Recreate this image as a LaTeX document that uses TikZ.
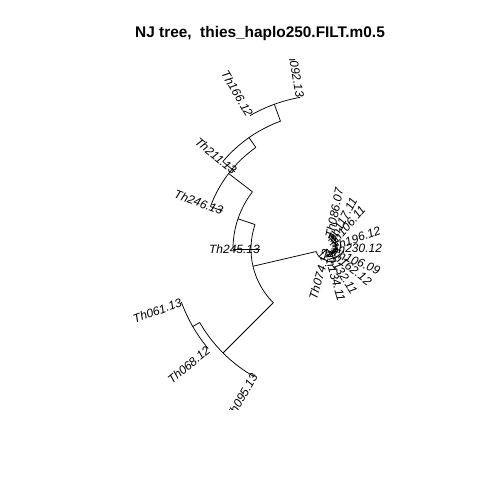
\documentclass[tikz,border=0pt]{standalone}
\usepackage{fontspec}
\setmainfont{Liberation Sans}
\begin{document}
\begin{tikzpicture}[x=1pt,y=1pt,
  br/.style={line width=0.75pt, black},
  lab/.style={font=\itshape\fontsize{12}{14}\selectfont, inner sep=0pt},
  labL/.style={lab, anchor=east, rotate=#1},
  labR/.style={lab, anchor=west, rotate=#1}]
\useasboundingbox (0,0) rectangle (480,-480);
\fill[white] (0,0) rectangle (480,-480);
\node[font=\bfseries\fontsize{15.4}{18}\selectfont, anchor=base] (title) at (260,-37) {NJ tree,\ \ thies\_haplo250.FILT.m0.5};
\begin{scope}
\clip (59,-59) rectangle (450,-409);
\begin{scope}[shift={(327,-249)}]
% ---- outer clade ----
\coordinate (R) at (0,0);
\coordinate (P) at (223.5:11);
\coordinate (Pa) at (193.1:11);
\coordinate (Pb) at (254:11);
\coordinate (A) at (193.1:76);
\coordinate (Aa) at (161.25:76);
\coordinate (Ab) at (225:76);
\coordinate (E) at (161.25:94);
\coordinate (Ea) at (142.5:94);
\coordinate (Eb) at (180:94);
\coordinate (F) at (142.5:124);
\coordinate (Fa) at (125:124);
\coordinate (Fb) at (160:124);
\coordinate (G) at (125:136);
\coordinate (Ga) at (110:136);
\coordinate (Gb) at (140:136);
\coordinate (H) at (110:154);
\coordinate (Ha) at (100:154);
\coordinate (Hb) at (120:154);
\coordinate (B) at (225:147);
\coordinate (Ba) at (210:147);
\coordinate (Bb) at (240:147);
\coordinate (D) at (210:155);
\coordinate (Da) at (200:155);
\coordinate (Db) at (220:155);
\coordinate (t245) at (180:67);
\coordinate (t246) at (160:111);
\coordinate (t211) at (140:120);
\coordinate (t095) at (240:145);
\coordinate (t074) at (254:1);
\draw[br] (R) -- (P);
\draw[br] (Pa) arc[start angle=193.1,end angle=254,radius=11pt];
\draw[br] (Pa) -- (A);
\draw[br] (Aa) arc[start angle=161.25,end angle=225,radius=76pt];
\draw[br] (Aa) -- (E);
\draw[br] (Ea) arc[start angle=142.5,end angle=180,radius=94pt];
\draw[br] (Eb) -- (t245);
\draw[br] (Ea) -- (F);
\draw[br] (Fa) arc[start angle=125,end angle=160,radius=124pt];
\draw[br] (Fb) -- (t246);
\draw[br] (Fa) -- (G);
\draw[br] (Ga) arc[start angle=110,end angle=140,radius=136pt];
\draw[br] (Gb) -- (t211);
\draw[br] (Ga) -- (H);
\draw[br] (Ha) arc[start angle=100,end angle=120,radius=154pt];
\draw[br] (Ab) -- (B);
\draw[br] (Ba) arc[start angle=210,end angle=240,radius=147pt];
\draw[br] (Bb) -- (t095);
\draw[br] (Ba) -- (D);
\draw[br] (Da) arc[start angle=200,end angle=220,radius=155pt];
\draw[br] (Pb) -- (t074);
% ---- cluster near the root ----
\coordinate (Q1) at (-56.5:3);
\coordinate (Q2s) at (-38.5:3);
\coordinate (Q2) at (-38.5:5);
\coordinate (Q3s) at (-20:5);
\coordinate (Q3) at (-20:7);
\coordinate (Q4s) at (-1:7);
\coordinate (Q4) at (-1:9);
\coordinate (Q5s) at (20.5:9);
\coordinate (Q5) at (20.5:10.5);
\coordinate (Q6s) at (40:10.5);
\coordinate (Q6) at (40:12);
\coordinate (Q7s) at (59.75:12);
\coordinate (Q7) at (59.75:13.5);
\coordinate (Q8s) at (70.25:13.5);
\coordinate (Q8) at (70.25:15);
\coordinate (t9s) at (-74:3);    \coordinate (t9) at (-74:4);
\coordinate (t8s) at (-58:5);    \coordinate (t8) at (-58:2);
\coordinate (t7s) at (-38:7);    \coordinate (t7) at (-38:4);
\coordinate (t6s) at (-22.5:9);  \coordinate (t6) at (-22.5:6);
\coordinate (t5s) at (1:10.5);   \coordinate (t5) at (1:4);
\coordinate (t4s) at (20:12);    \coordinate (t4) at (20:5.5);
\coordinate (t3s) at (49:13.5);  \coordinate (t3) at (49:5);
\coordinate (t2s) at (62:15);    \coordinate (t2) at (62:8);
\coordinate (t1s) at (78.5:15);  \coordinate (t1) at (78.5:11);
\draw[br] (R) -- (Q1);
\draw[br] (t9s) arc[start angle=-74,end angle=-38.5,radius=3pt];
\draw[br] (Q2s) -- (Q2);
\draw[br] (t8s) arc[start angle=-58,end angle=-20,radius=5pt];
\draw[br] (Q3s) -- (Q3);
\draw[br] (t7s) arc[start angle=-38,end angle=-1,radius=7pt];
\draw[br] (Q4s) -- (Q4);
\draw[br] (t6s) arc[start angle=-22.5,end angle=20.5,radius=9pt];
\draw[br] (Q5s) -- (Q5);
\draw[br] (t5s) arc[start angle=1,end angle=40,radius=10.5pt];
\draw[br] (Q6s) -- (Q6);
\draw[br] (t4s) arc[start angle=20,end angle=59.75,radius=12pt];
\draw[br] (Q7s) -- (Q7);
\draw[br] (t3s) arc[start angle=49,end angle=70.25,radius=13.5pt];
\draw[br] (Q8s) -- (Q8);
\draw[br] (t2s) arc[start angle=62,end angle=78.5,radius=15pt];
\foreach \i in {1,...,9} {\draw[br] (t\i s) -- (t\i);}
% ---- tip labels ----
\node[labL=-80] (l092) at (Ha) {Th092.13};
\node[labL=-60] (l166) at (Hb) {Th166.12};
\node[labL=-40] (l211) at (t211) {Th211.13};
\node[labL=-20] (l246) at (t246) {Th246.13};
\node[labL=0] (l245) at (t245) {Th245.13};
\node[labL=20] (l061) at (Da) {Th061.13};
\node[labL=40] (l068) at (Db) {Th068.12};
\node[labL=60] (l095) at (t095) {Th095.13};
\node[labL=74] (l074) at (t074) {Th074.12};
\node[labR=78.5] (l086) at (t1) {Th086.07};
\node[labR=62] (l117) at (t2) {Th117.11};
\node[labR=49] (l106a) at (t3) {Th106.11};
\node[labR=20] (l196) at (t4) {Th196.12};
\node[labR=1] (l230) at (t5) {Th230.12};
\node[labR=-22.5] (l106b) at (t6) {Th106.09};
\node[labR=-38] (l162) at (t7) {Th162.12};
\node[labR=-58] (l132) at (t8) {Th132.11};
\node[labR=-74] (l134) at (t9) {Th134.11};
\end{scope}
\end{scope}
\end{tikzpicture}
\end{document}
